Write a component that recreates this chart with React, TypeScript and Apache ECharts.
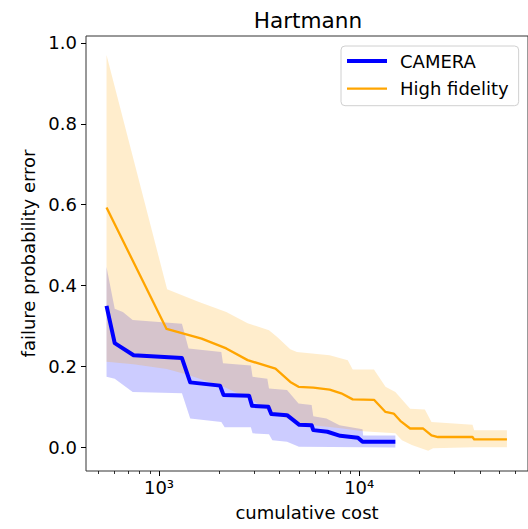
import React, { useEffect, useRef } from 'react';
import * as echarts from 'echarts';

// CAMERA mean curve
const cameraCost = [547, 601, 747, 1302, 1432, 2018, 2100, 2819, 2916, 3516, 3638, 4359, 5023, 5786, 5899, 6937, 8037, 9854, 10392, 15153];
const cameraMean = [0.350, 0.258, 0.228, 0.221, 0.161, 0.153, 0.130, 0.128, 0.103, 0.101, 0.083, 0.080, 0.056, 0.055, 0.043, 0.039, 0.029, 0.024, 0.014, 0.014];
// CAMERA band
const cameraUpperCost = [547, 601, 660, 739, 1302, 1405, 2048, 2088, 2877, 2933, 3476, 3543, 4359, 4977, 5786, 5899, 6859, 7972, 10392, 10463, 15153];
const cameraUpper = [0.446, 0.343, 0.335, 0.315, 0.306, 0.245, 0.236, 0.208, 0.203, 0.175, 0.170, 0.146, 0.142, 0.109, 0.105, 0.077, 0.072, 0.055, 0.045, 0.030, 0.030];
const cameraLowerCost = [547, 601, 739, 1302, 1432, 2048, 2128, 2877, 2933, 3543, 3681, 4359, 5000, 15153];
const cameraLower = [0.175, 0.170, 0.137, 0.134, 0.072, 0.063, 0.050, 0.050, 0.035, 0.033, 0.018, 0.014, 0.002, 0.000];

// High fidelity mean curve
const hfCost = [547, 1091, 1633, 2168, 2772, 3818, 4526, 4977, 5899, 7119, 8128, 9280, 11852, 13530, 14866, 16038, 17961, 20876, 22962, 24747, 36796, 37497, 54675];
const hfMean = [0.593, 0.293, 0.269, 0.245, 0.216, 0.195, 0.162, 0.150, 0.148, 0.143, 0.134, 0.119, 0.118, 0.088, 0.084, 0.066, 0.047, 0.047, 0.030, 0.026, 0.026, 0.020, 0.020];
// High fidelity band
const hfUpperCost = [547, 1098, 1573, 2168, 2772, 3543, 3893, 4526, 4883, 7119, 8768, 9280, 11852, 13530, 15153, 17961, 21280, 22962, 36796, 37497, 54675];
const hfUpper = [0.970, 0.391, 0.360, 0.335, 0.307, 0.290, 0.273, 0.243, 0.236, 0.228, 0.216, 0.193, 0.193, 0.150, 0.137, 0.096, 0.094, 0.063, 0.056, 0.043, 0.043];
const hfLowerCost = [547, 745, 1095, 1405, 2129, 2933, 3609, 4359, 5069, 8286, 10392, 15153, 16350, 18310, 22100, 23380, 37497, 54675];
const hfLower = [0.212, 0.206, 0.194, 0.179, 0.149, 0.117, 0.087, 0.072, 0.059, 0.047, 0.040, 0.035, 0.018, 0.006, -0.008, -0.002, 0.001, 0.001];

// Axes
const yTicks = [0, 0.2, 0.4, 0.6, 0.8, 1.0];
const xMajorTicks = [1000, 10000];
const xMinorTicks = [500, 600, 700, 800, 900, 2000, 3000, 4000, 5000, 6000, 7000, 8000, 9000, 20000, 30000, 40000, 50000, 60000];
const xTickLabels: Record<number, string> = { 1000: '10³', 10000: '10⁴' };

const FONT = 'DejaVu Sans';

const zip = (xs: number[], ys: number[]) => xs.map((x, i) => [x, ys[i]]);

function bandSeries(name: string, ux: number[], uy: number[], lx: number[], ly: number[], color: string, z: number) {
  const upper = zip(ux, uy);
  const lower = zip(lx, ly);
  return {
    type: 'custom',
    name,
    xAxisIndex: 0,
    yAxisIndex: 0,
    silent: true,
    z,
    encode: { x: 0, y: 1 },
    data: [upper[0]],
    renderItem: (_params: any, api: any) => {
      const pts = [
        ...upper.map((p) => api.coord(p)),
        ...lower.slice().reverse().map((p) => api.coord(p)),
      ];
      return { type: 'polygon', shape: { points: pts }, style: { fill: color }, silent: true };
    },
  };
}

export default function App() {
  const ref = useRef<HTMLDivElement>(null);
  useEffect(() => {
    if (!ref.current) return;
    const chart = echarts.init(ref.current, undefined, { renderer: 'svg' });
    const xMin = 432;
    const xMax = 69660;
    chart.setOption({
      animation: false,
      backgroundColor: '#ffffff',
      textStyle: { fontFamily: FONT },
      title: {
        text: 'Hartmann',
        left: 308,
        textAlign: 'center',
        top: 9,
        padding: 0,
        textStyle: { fontFamily: FONT, fontSize: 21.6, fontWeight: 'normal', color: '#000' },
      },
      grid: {
        left: 86,
        top: 36,
        width: 449,
        height: 435,
        show: true,
        borderColor: '#333',
        borderWidth: 1,
        backgroundColor: 'transparent',
      },
      legend: {
        orient: 'vertical',
        left: 341,
        top: 46,
        padding: [6, 10, 8, 6],
        itemGap: 9.7,
        itemWidth: 40,
        itemHeight: 14,
        backgroundColor: 'rgba(255,255,255,0.8)',
        borderColor: '#d0d0d0',
        borderWidth: 1,
        borderRadius: 4,
        itemStyle: { borderWidth: 0 },
        textStyle: { fontFamily: FONT, fontSize: 18, color: '#000', padding: [0, 0, 0, 8] },
        data: [
          { name: 'CAMERA', icon: 'path://M0,0L40,0L40,4L0,4Z' },
          { name: 'High fidelity', icon: 'path://M0,0L40,0L40,2.3L0,2.3Z' },
        ],
      },
      xAxis: [
        {
          type: 'log',
          logBase: 10,
          min: xMin,
          max: xMax,
          position: 'bottom',
          gridIndex: 0,
          axisLine: { show: false, onZero: false },
          splitLine: { show: false },
          axisTick: { show: true, length: 5, lineStyle: { color: '#000', width: 1 }, customValues: xMajorTicks },
          axisLabel: {
            customValues: xMajorTicks,
            formatter: (v: number) => xTickLabels[Math.round(v)] ?? '',
            fontFamily: FONT,
            fontSize: 18,
            color: '#000',
            margin: 7,
          },
          name: 'cumulative cost',
          nameLocation: 'middle',
          nameGap: 32,
          nameTextStyle: { fontFamily: FONT, fontSize: 18, color: '#000' },
        },
        {
          type: 'log',
          logBase: 10,
          min: xMin,
          max: xMax,
          position: 'bottom',
          gridIndex: 0,
          axisLine: { show: false, onZero: false },
          splitLine: { show: false },
          axisLabel: { show: false },
          axisTick: { show: true, length: 3, lineStyle: { color: '#000', width: 0.8 }, customValues: xMinorTicks },
        },
      ],
      yAxis: {
        type: 'value',
        min: -0.058,
        max: 1.017,
        axisLine: { show: false, onZero: false },
        splitLine: { show: false },
        axisTick: { show: true, length: 5, lineStyle: { color: '#000', width: 1 }, customValues: yTicks },
        axisLabel: {
          customValues: yTicks,
          formatter: (v: number) => v.toFixed(1),
          fontFamily: FONT,
          fontSize: 18,
          color: '#000',
          margin: 9,
        },
        name: 'failure probability error',
        nameLocation: 'middle',
        nameRotate: 90,
        nameGap: 42,
        nameTextStyle: { fontFamily: FONT, fontSize: 18, color: '#000' },
      },
      series: [
        bandSeries('CAMERA band', cameraUpperCost, cameraUpper, cameraLowerCost, cameraLower, 'rgba(0,0,255,0.2)', 1),
        bandSeries('High fidelity band', hfUpperCost, hfUpper, hfLowerCost, hfLower, 'rgba(255,165,0,0.2)', 2),
        {
          type: 'line',
          name: 'CAMERA',
          data: zip(cameraCost, cameraMean),
          showSymbol: false,
          symbol: 'none',
          z: 4,
          color: '#0000ff',
          itemStyle: { color: '#0000ff' },
          lineStyle: { color: '#0000ff', width: 4, join: 'round' },
        },
        {
          type: 'line',
          name: 'High fidelity',
          data: zip(hfCost, hfMean),
          showSymbol: false,
          symbol: 'none',
          z: 4,
          color: '#ffa500',
          itemStyle: { color: '#ffa500' },
          lineStyle: { color: '#ffa500', width: 2.3, join: 'round' },
        },
      ],
    });
    return () => chart.dispose();
  }, []);
  return <div ref={ref} style={{ position: 'fixed', left: 0, top: 0, width: 528, height: 529 }} />;
}
